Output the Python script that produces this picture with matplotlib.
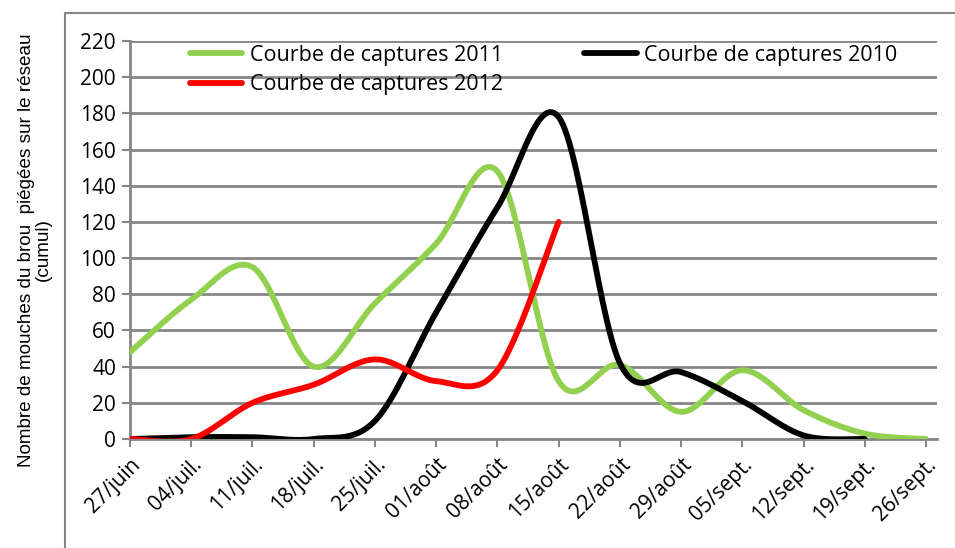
import numpy as np
import matplotlib
matplotlib.use("Agg")
import matplotlib.pyplot as plt
from matplotlib.lines import Line2D

# week labels (27 June to 26 Sept)
dates = ['27/juin', '04/juil.', '11/juil.', '18/juil.', '25/juil.', '01/août',
         '08/août', '15/août', '22/août', '29/août', '05/sept.', '12/sept.',
         '19/sept.', '26/sept.']

# cumulative captures, one value per week
captures_2011 = [48, 77, 95, 40, 75, 108, 148, 32, 41, 15, 38, 16, 3, 0]
captures_2010 = [0, 1, 1, 0, 10, 70, 128, 178, 42, 37, 21, 2, 0]
captures_2012 = [0, 0, 20, 30, 44, 32, 38, 120]


def smooth(x, y, n=30):
    # Catmull-Rom style smoothing, like Excel's "smoothed line"
    x = np.asarray(x, float)
    y = np.asarray(y, float)
    p = np.column_stack([x, y])
    m = np.zeros_like(p)
    m[1:-1] = (p[2:] - p[:-2]) / 2
    m[0] = (p[1] - p[0]) / 2
    m[-1] = (p[-1] - p[-2]) / 2
    out = []
    t = np.linspace(0, 1, n)[:, None]
    for i in range(len(p) - 1):
        b0 = p[i]
        b1 = p[i] + m[i] / 3
        b2 = p[i + 1] - m[i + 1] / 3
        b3 = p[i + 1]
        seg = ((1 - t) ** 3) * b0 + 3 * ((1 - t) ** 2) * t * b1 \
            + 3 * (1 - t) * t ** 2 * b2 + t ** 3 * b3
        out.append(seg if i == 0 else seg[1:])
    out = np.vstack(out)
    return out[:, 0], out[:, 1]


plt.rcParams['font.family'] = ['Open Sans', 'DejaVu Sans']

fig = plt.figure(figsize=(9.55, 5.48), dpi=100)
ax = fig.add_axes([130 / 955, 1 - 439 / 548, (937 - 130) / 955, (439 - 41) / 548])

grid_color = '#868686'
green = '#92D050'

x11, y11 = smooth(range(len(captures_2011)), captures_2011)
x10, y10 = smooth(range(len(captures_2010)), captures_2010)
x12, y12 = smooth(range(len(captures_2012)), captures_2012)

ax.plot(x11, y11, color=green, lw=4.2, solid_capstyle='round', zorder=3)
ax.plot(x10, y10, color='black', lw=4.2, solid_capstyle='round', zorder=4)
ax.plot(x12, y12, color='#FF0000', lw=4.2, solid_capstyle='round', zorder=5)

ax.set_ylim(0, 220)
ax.set_xlim(0, 13.18)
ax.set_yticks(np.arange(0, 221, 20))
ax.set_xticks(range(len(dates)))
ax.set_xticklabels(dates, rotation=45, ha='right', va='top',
                   rotation_mode='anchor', fontsize=15)
ax.tick_params(axis='y', labelsize=15, length=6, width=1.5, color=grid_color, pad=4)
ax.tick_params(axis='x', length=6, width=1.5, color=grid_color, pad=5)

ax.grid(axis='y', color=grid_color, lw=2)
ax.set_axisbelow(True)
for s in ['top', 'right']:
    ax.spines[s].set_visible(False)
ax.spines['left'].set_color(grid_color)
ax.spines['left'].set_linewidth(2)
ax.spines['bottom'].set_color(grid_color)
ax.spines['bottom'].set_linewidth(2)

fig.text(35 / 955, 1 - 250 / 548,
         'Nombre de mouches du brou  piégées sur le réseau\n(cumul)',
         family=['Liberation Sans', 'DejaVu Sans'], fontsize=13.6,
         rotation=90, ha='center', va='center', multialignment='center',
         linespacing=1.05)

# legend: 2011 and 2012 in first column, 2010 in second
handles = [Line2D([], [], color=green, lw=4.2, solid_capstyle='round'),
           Line2D([], [], color='#FF0000', lw=4.2, solid_capstyle='round'),
           Line2D([], [], color='black', lw=4.2, solid_capstyle='round')]
labels = ['Courbe de captures 2011', 'Courbe de captures 2012',
          'Courbe de captures 2010']
ax.legend(handles, labels, ncol=2, frameon=False, fontsize=15.5,
          loc='upper left', bbox_to_anchor=(0.074, 0.99),
          handlelength=2.45, handletextpad=0.33, columnspacing=3.8,
          labelspacing=0.38, borderaxespad=0, borderpad=0)

# chart area border (partially visible)
fig.add_artist(Line2D([65 / 955, 65 / 955], [0, 1 - 13 / 548],
                      color=grid_color, lw=1.5))
fig.add_artist(Line2D([65 / 955, 1], [1 - 13 / 548, 1 - 13 / 548],
                      color=grid_color, lw=1.5))

fig.savefig('out.png', dpi=100)
